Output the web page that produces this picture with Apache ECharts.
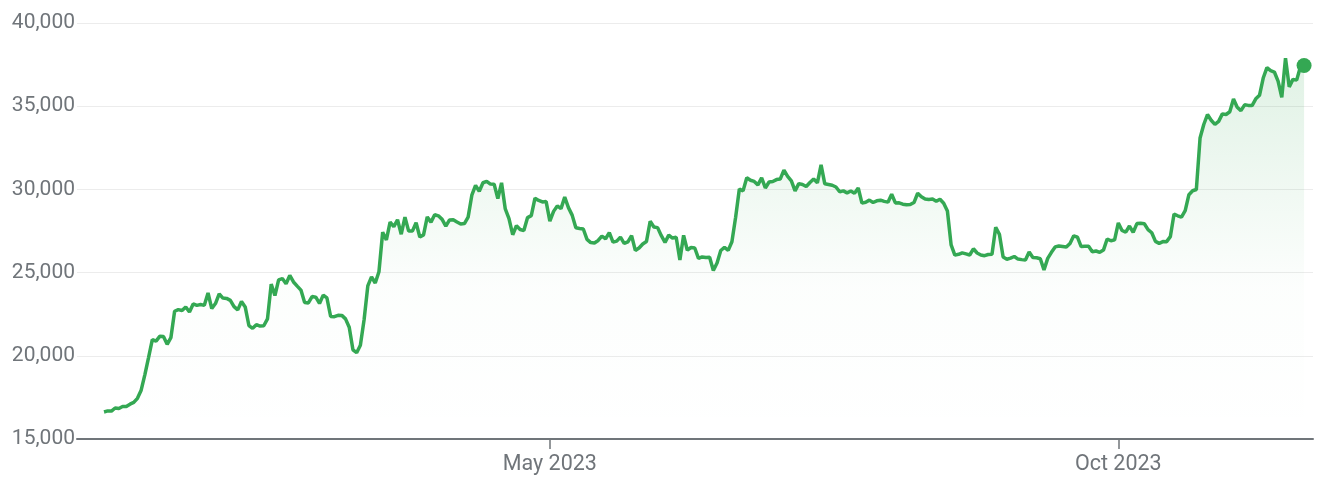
<!DOCTYPE html>
<html>
<head>
<meta charset="utf-8">
<script src="https://cdn.jsdelivr.net/npm/echarts@6/dist/echarts.min.js"></script>
<style>
  html, body { margin: 0; padding: 0; background: #fff; }
  #chart { width: 1324px; height: 488px; }
</style>
</head>
<body>
<div id="chart"></div>
<script>
// daily closing prices, 1 Jan 2023 - 20 Nov 2023
var startDate = '2023-01-01'
var jan = [16625, 16688, 16680, 16863, 16836, 16951, 16955, 17091, 17196, 17446, 17934, 18869, 19909, 20976, 20880, 21169, 21161, 20688, 21086, 22676, 22777, 22720, 22934, 22636, 23117, 23032, 23078, 23031, 23774, 22840, 23139]
var feb = [23723, 23471, 23449, 23331, 22955, 22760, 23264, 22939, 21819, 21651, 21870, 21788, 21808, 22220, 24307, 23623, 24565, 24641, 24327, 24829, 24436, 24188, 23947, 23198, 23175, 23561, 23522, 23147]
var mar = [23646, 23475, 22362, 22353, 22435, 22429, 22219, 21718, 20363, 20187, 20633, 22163, 24197, 24746, 24375, 25052, 27423, 26965, 28038, 27767, 28175, 27307, 28333, 27493, 27494, 27994, 27139, 27268, 28348, 28033, 28478]
var apr = [28411, 28199, 27790, 28168, 28177, 28044, 27925, 27947, 28333, 29653, 30235, 29892, 30400, 30485, 30318, 30315, 29445, 30397, 28823, 28245, 27276, 27817, 27591, 27525, 28307, 28422, 29473, 29340, 29248, 29268]
var may = [28091, 28680, 29006, 28847, 29534, 28904, 28454, 27695, 27654, 27621, 27000, 26804, 26784, 26930, 27192, 27036, 27398, 26832, 26890, 27129, 26753, 26851, 27225, 26334, 26476, 26719, 26868, 28085, 27745, 27703, 27219]
var jun = [26819, 27249, 27075, 27119, 25760, 27238, 26346, 26508, 26480, 25851, 25940, 25902, 25918, 25124, 25576, 26327, 26510, 26336, 26851, 28327, 30027, 29912, 30695, 30548, 30480, 30271, 30689, 30086, 30445, 30477]
var jul = [30590, 30620, 31156, 30777, 30514, 29909, 30346, 30292, 30171, 30414, 30620, 30391, 31476, 30334, 30295, 30249, 30145, 29856, 29913, 29793, 29908, 29771, 30084, 29177, 29228, 29355, 29214, 29315, 29352, 29281, 29233]
var aug = [29706, 29187, 29193, 29113, 29072, 29088, 29210, 29769, 29562, 29429, 29398, 29416, 29284, 29409, 29170, 28701, 26664, 26050, 26100, 26189, 26125, 26057, 26432, 26180, 26060, 26018, 26090, 26107, 27728, 27298, 25932]
var sep = [25802, 25869, 25969, 25813, 25780, 25753, 26240, 25906, 25895, 25833, 25163, 25855, 26218, 26543, 26600, 26568, 26535, 26754, 27212, 27133, 26567, 26579, 26580, 26256, 26298, 26217, 26352, 27022, 26911, 26968]
var oct = [27984, 27531, 27429, 27799, 27416, 27947, 27968, 27935, 27584, 27392, 26874, 26756, 26862, 26861, 27159, 28519, 28415, 28328, 28719, 29682, 29918, 29993, 33087, 33901, 34502, 34156, 33909, 34089, 34538, 34502, 34667]
var nov = [35437, 34938, 34732, 35082, 35049, 35038, 35443, 35655, 36693, 37313, 37138, 37054, 36502, 35537, 37880, 36163, 36613, 36568, 37359, 37448]

var xTickDates = ['2023-05-01', '2023-10-01']
var xTickLabels = ['May 2023', 'Oct 2023']
var yTicks = [15000, 20000, 25000, 30000, 35000, 40000]

var DAY = 24 * 3600 * 1000
var t0 = Date.parse(startDate + 'T00:00:00Z')
var values = [].concat(jan, feb, mar, apr, may, jun, jul, aug, sep, oct, nov)
// x is the day number counted from startDate
var seriesData = values.map(function (v, i) {
  return [i, v]
})
var tickDays = xTickDates.map(function (d) {
  return Math.round((Date.parse(d + 'T00:00:00Z') - t0) / DAY)
})

var green = '#34a853'
var grey = '#70757a'

var chart = echarts.init(document.getElementById('chart'))
chart.setOption({
  backgroundColor: '#fff',
  animation: false,
  grid: {
    left: 77,
    right: 11,
    top: 23,
    bottom: 49
  },
  xAxis: {
    type: 'value',
    min: -7.27,
    max: 325.4,
    axisLine: {
      show: true,
      onZero: false,
      lineStyle: { color: grey, width: 2 }
    },
    axisTick: {
      show: true,
      customValues: tickDays,
      length: 10,
      lineStyle: { color: grey, width: 1.5 }
    },
    axisLabel: {
      customValues: tickDays,
      margin: 15,
      fontFamily: 'Roboto',
      fontSize: 21.5,
      color: grey,
      formatter: function (v) {
        var i = tickDays.indexOf(Math.round(v))
        return i >= 0 ? xTickLabels[i] : ''
      }
    },
    splitLine: { show: false }
  },
  yAxis: {
    type: 'value',
    min: yTicks[0],
    max: yTicks[yTicks.length - 1],
    interval: 5000,
    axisLine: { show: false },
    axisTick: { show: false },
    axisLabel: {
      margin: 2,
      fontFamily: 'Roboto',
      fontSize: 21,
      color: grey,
      formatter: function (v) {
        return v.toLocaleString('en-US')
      }
    },
    splitLine: {
      lineStyle: { color: '#ececec', width: 1 }
    }
  },
  series: [{
    type: 'line',
    data: seriesData,
    symbol: 'none',
    smooth: false,
    lineStyle: { color: green, width: 3.5 },
    areaStyle: {
      color: new echarts.graphic.LinearGradient(0, 0, 0, 1, [
        { offset: 0, color: 'rgba(52,168,83,0.22)' },
        { offset: 0.6, color: 'rgba(52,168,83,0.02)' },
        { offset: 1, color: 'rgba(52,168,83,0)' }
      ])
    },
    z: 2
  }, {
    type: 'scatter',
    data: [seriesData[seriesData.length - 1]],
    symbol: 'circle',
    symbolSize: 15,
    itemStyle: { color: green, opacity: 1 },
    z: 3
  }]
})
</script>
</body>
</html>
